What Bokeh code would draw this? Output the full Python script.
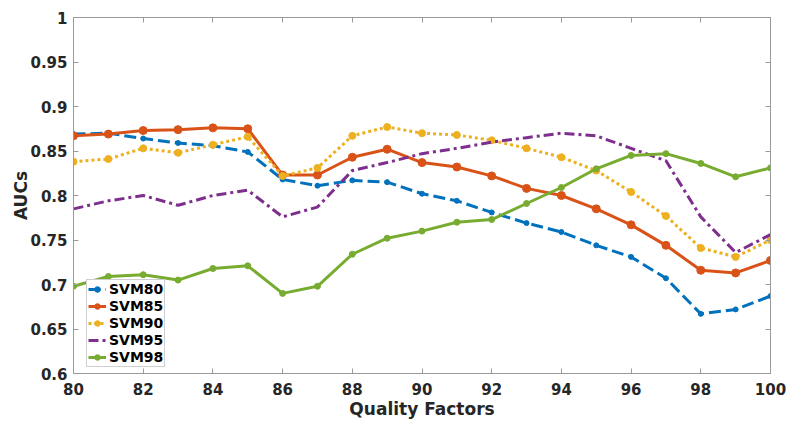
from bokeh.plotting import figure
from bokeh.models import LinearAxis, FixedTicker, Range1d, Legend, NumeralTickFormatter
from bokeh.embed import file_html
from bokeh.resources import INLINE

quality = list(range(80, 101))
x_ticks = [80, 82, 84, 86, 88, 90, 92, 94, 96, 98, 100]
y_ticks = [0.6, 0.65, 0.7, 0.75, 0.8, 0.85, 0.9, 0.95, 1.0]

svm80 = [0.869, 0.870, 0.864, 0.859, 0.856, 0.849, 0.818, 0.811, 0.817, 0.815, 0.802,
         0.794, 0.781, 0.769, 0.759, 0.744, 0.731, 0.707, 0.667, 0.672, 0.687]
svm85 = [0.867, 0.869, 0.873, 0.874, 0.876, 0.875, 0.823, 0.823, 0.843, 0.852, 0.837,
         0.832, 0.822, 0.808, 0.800, 0.785, 0.767, 0.744, 0.716, 0.713, 0.727]
svm90 = [0.838, 0.841, 0.853, 0.848, 0.857, 0.866, 0.822, 0.831, 0.867, 0.877, 0.870,
         0.868, 0.862, 0.853, 0.843, 0.828, 0.804, 0.777, 0.741, 0.731, 0.750]
svm95 = [0.785, 0.794, 0.800, 0.789, 0.800, 0.806, 0.776, 0.787, 0.828, 0.837, 0.847,
         0.853, 0.860, 0.865, 0.870, 0.867, 0.853, 0.839, 0.776, 0.736, 0.756]
svm98 = [0.698, 0.709, 0.711, 0.705, 0.718, 0.721, 0.690, 0.698, 0.734, 0.752, 0.760,
         0.770, 0.773, 0.791, 0.809, 0.830, 0.845, 0.847, 0.836, 0.821, 0.831]

FONT = "DejaVu Sans"
TXT = "#262626"
AX = "#9a9a9a"

p = figure(width=788, height=421, x_range=Range1d(80, 100), y_range=Range1d(0.6, 1.0),
           output_backend="svg", toolbar_location=None,
           min_border_left=73, min_border_right=18, min_border_top=17, min_border_bottom=48)
p.xgrid.visible = False
p.ygrid.visible = False
p.outline_line_color = AX
p.outline_line_width = 1

xa = p.xaxis[0]
ya = p.yaxis[0]
xa.ticker = FixedTicker(ticks=x_ticks)
ya.ticker = FixedTicker(ticks=y_ticks)
ya.formatter = NumeralTickFormatter(format="0.[00]")
for a in (xa, ya):
    a.major_tick_in = 5
    a.major_tick_out = 0
    a.minor_tick_in = 0
    a.minor_tick_out = 0
    a.axis_line_color = AX
    a.major_tick_line_color = AX
    a.major_label_text_font = FONT
    a.major_label_text_font_style = "bold"
    a.major_label_text_font_size = "15px"
    a.major_label_text_color = TXT
    a.axis_label_text_font = FONT
    a.axis_label_text_font_style = "bold"
    a.axis_label_text_font_size = "17px"
    a.axis_label_text_color = TXT
xa.axis_label = "Quality Factors"
ya.axis_label = "AUCs"
xa.major_label_standoff = 9
xa.axis_label_standoff = 1
ya.major_label_standoff = 6
ya.axis_label_standoff = -4

top = LinearAxis(ticker=FixedTicker(ticks=x_ticks), major_label_text_font_size="0px",
                 major_tick_in=5, major_tick_out=0, minor_tick_in=0, minor_tick_out=0,
                 axis_line_color=AX, major_tick_line_color=AX, major_label_standoff=0)
right = LinearAxis(ticker=FixedTicker(ticks=y_ticks), major_label_text_font_size="0px",
                   major_tick_in=5, major_tick_out=0, minor_tick_in=0, minor_tick_out=0,
                   axis_line_color=AX, major_tick_line_color=AX, major_label_standoff=0)
p.add_layout(top, "above")
p.add_layout(right, "right")

series = [
    ("SVM80", svm80, "#0072BD", "12 5", 5),
    ("SVM85", svm85, "#D95319", "solid", 8),
    ("SVM90", svm90, "#EDB120", "3 3", 7),
    ("SVM95", svm95, "#7E2F8E", "10 4 3 4", 0),
    ("SVM98", svm98, "#77AC30", "solid", 6),
]
items = []
for name, vals, col, dash, msize in series:
    rs = [p.line(quality, vals, line_color=col, line_width=3, line_dash=dash)]
    if msize:
        rs.append(p.scatter(quality, vals, size=msize, fill_color=col, line_color=col))
    items.append((name, rs))

legend = Legend(items=items, location=(13, 6))
legend.border_line_color = "#a0a0a0"
legend.border_line_width = 1
legend.background_fill_color = "white"
legend.background_fill_alpha = 1
legend.padding = 1
legend.spacing = 1
legend.margin = 0
legend.glyph_width = 18
legend.glyph_height = 14
legend.label_height = 16
legend.label_standoff = 3
legend.label_text_font = FONT
legend.label_text_font_style = "bold"
legend.label_text_font_size = "14px"
legend.label_text_color = "black"
p.add_layout(legend)

open("out.html", "w").write(file_html(p, INLINE))
